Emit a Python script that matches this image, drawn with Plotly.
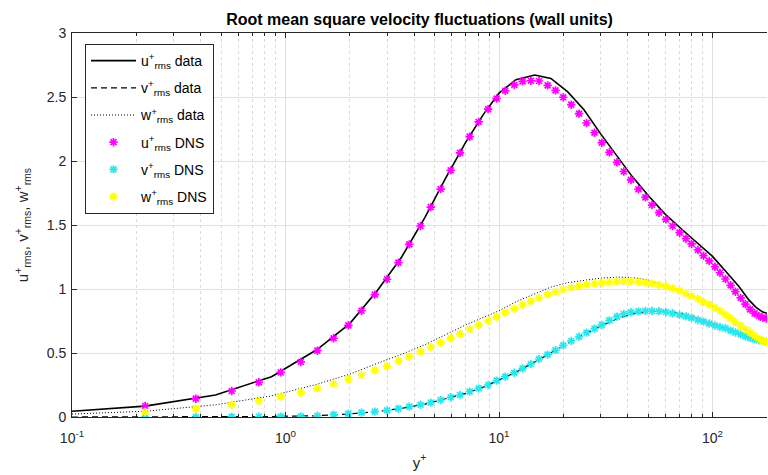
import plotly.graph_objects as go
import numpy as np

# ---------------- data ----------------
# DNS reference points (y+ positions)
yp_dns = [0.22, 0.38, 0.56, 0.75, 0.95, 1.18, 1.41, 1.68, 1.97, 2.27, 2.62, 2.99, 3.38, 3.80,
          4.29, 4.79, 5.33, 5.94, 6.57, 7.29, 8.03, 8.89, 9.75, 10.7, 11.8, 12.9, 14.1, 15.4,
          16.9, 18.4, 20.0, 21.8, 23.7, 25.7, 28.0, 30.3, 32.9, 35.7, 38.4, 41.5, 45.0, 48.5,
          52.1, 56.2, 60.5, 65.0, 70.1, 75.1, 79.8, 85.5, 90.8, 96.5, 102.7, 108.4, 115.0,
          121.6, 128.0, 135.5, 142.6, 150.0, 157.5, 165.0, 172.0, 179.0]

u_dns = [0.086, 0.143, 0.203, 0.271, 0.349, 0.43, 0.518, 0.615, 0.716, 0.83, 0.956, 1.076,
         1.206, 1.349, 1.492, 1.64, 1.781, 1.927, 2.063, 2.19, 2.305, 2.405, 2.488, 2.549,
         2.594, 2.622, 2.627, 2.625, 2.591, 2.552, 2.498, 2.44, 2.37, 2.297, 2.221, 2.143,
         2.068, 1.99, 1.918, 1.852, 1.779, 1.716, 1.656, 1.596, 1.544, 1.492, 1.44, 1.393,
         1.352, 1.305, 1.26, 1.219, 1.174, 1.127, 1.078, 1.029, 0.979, 0.93, 0.882, 0.841,
         0.81, 0.789, 0.776, 0.77]

v_dns = [0.0, 0.0, 0.001, 0.002, 0.003, 0.005, 0.01, 0.018, 0.026, 0.034, 0.042, 0.052,
         0.065, 0.081, 0.096, 0.112, 0.133, 0.154, 0.172, 0.198, 0.224, 0.25, 0.284, 0.315,
         0.346, 0.38, 0.414, 0.453, 0.487, 0.523, 0.56, 0.594, 0.627, 0.659, 0.69, 0.72,
         0.755, 0.784, 0.805, 0.818, 0.825, 0.828, 0.828, 0.826, 0.82, 0.81, 0.797, 0.786,
         0.775, 0.758, 0.745, 0.73, 0.715, 0.703, 0.693, 0.675, 0.66, 0.645, 0.63, 0.618,
         0.607, 0.6, 0.593, 0.588]

w_dns = [0.039, 0.065, 0.096, 0.125, 0.159, 0.19, 0.224, 0.258, 0.294, 0.326, 0.365, 0.398,
         0.4375, 0.471, 0.51, 0.545, 0.58, 0.615, 0.648, 0.685, 0.719, 0.75, 0.781, 0.815,
         0.846, 0.875, 0.904, 0.93, 0.956, 0.977, 0.995, 1.01, 1.023, 1.034, 1.041, 1.049,
         1.053, 1.058, 1.06, 1.06, 1.055, 1.049, 1.042, 1.031, 1.021, 1.005, 0.987, 0.963,
         0.945, 0.922, 0.898, 0.878, 0.854, 0.828, 0.799, 0.771, 0.742, 0.713, 0.685, 0.659,
         0.633, 0.612, 0.594, 0.586]

# computed ("data") profiles
yp_data = [0.1, 0.22, 0.47, 0.86, 1.4, 2.0, 2.7, 3.5, 4.5, 5.6, 7.0, 8.5, 10.0, 12.0, 14.7,
           17.5, 21.0, 25.0, 30.0, 36.0, 42.0, 50.0, 60.0, 72.0, 86.0, 100.0, 115.0, 133.0,
           148.0, 160.0, 172.0, 180.0]

u_data = [0.045, 0.085, 0.172, 0.315, 0.525, 0.73, 0.99, 1.25, 1.56, 1.86, 2.15, 2.37, 2.53,
          2.635, 2.672, 2.645, 2.54, 2.40, 2.21, 2.03, 1.88, 1.73, 1.585, 1.465, 1.35, 1.255,
          1.14, 1.02, 0.915, 0.857, 0.82, 0.81]

v_data = [0.0, 0.0, 0.001, 0.004, 0.01, 0.024, 0.043, 0.068, 0.10, 0.14, 0.185, 0.235, 0.29,
          0.35, 0.43, 0.50, 0.575, 0.645, 0.71, 0.77, 0.805, 0.825, 0.825, 0.805, 0.77, 0.73,
          0.69, 0.65, 0.625, 0.61, 0.6, 0.6]

w_data = [0.023, 0.045, 0.095, 0.165, 0.255, 0.335, 0.42, 0.49, 0.565, 0.64, 0.72, 0.78, 0.83,
          0.9, 0.96, 1.015, 1.05, 1.07, 1.085, 1.093, 1.09, 1.07, 1.03, 0.985, 0.925, 0.865,
          0.8, 0.72, 0.665, 0.625, 0.6, 0.595]

x_tickvals = [0.1, 1, 10, 100]
x_ticktext = ["10<sup>-1</sup>", "10<sup>0</sup>", "10<sup>1</sup>", "10<sup>2</sup>"]
x_minor = [m * d for d in (0.1, 1, 10) for m in range(2, 10)]
y_tickvals = [0, 0.5, 1, 1.5, 2, 2.5, 3]
y_ticktext = ["0", "0.5", "1", "1.5", "2", "2.5", "3"]

FONT = "Liberation Sans, Arial, Helvetica, sans-serif"
TXT = "#262626"

fig = go.Figure()

def lab(c, kind):
    return f"{c}<sup>+</sup><sub>rms</sub> {kind}"

fig.add_trace(go.Scatter(x=yp_data, y=u_data, mode="lines", name=lab("u", "data"),
                         legendgroup="g1",
                         line=dict(color="black", width=1.6, dash="solid")))
fig.add_trace(go.Scatter(x=yp_data, y=v_data, mode="lines", name=lab("v", "data"),
                         legendgroup="g2",
                         line=dict(color="black", width=1.2, dash="6px,4px")))
fig.add_trace(go.Scatter(x=yp_data, y=w_data, mode="lines", name=lab("w", "data"),
                         legendgroup="g3",
                         line=dict(color="black", width=1.0, dash="1px,2px")))

for i, (vals, col, c) in enumerate(((u_dns, "#FF00FF", "u"), (v_dns, "#2CE6EE", "v"),
                                    (w_dns, "#FFFF00", "w"))):
    fig.add_trace(go.Scatter(x=yp_dns, y=vals, mode="markers", name=lab(c, "DNS"),
                             legendgroup=f"g{4 + i}",
                             marker=dict(symbol="asterisk", size=7, color=col,
                                         line=dict(color=col, width=1.7))))

fig.update_layout(
    width=768, height=475,
    margin=dict(l=72, r=1, t=33, b=58),
    paper_bgcolor="white", plot_bgcolor="white",
    font=dict(family=FONT, size=14, color=TXT),
    title=dict(text="<b>Root mean square velocity fluctuations (wall units)</b>",
               x=0.5, xanchor="center", xref="paper", y=1 - 19.5 / 475, yanchor="middle",
               font=dict(size=16, color="black")),
    showlegend=True,
    legend=dict(x=(85 - 72) / 695, y=(417 - 44) / 384, xanchor="left", yanchor="top",
                bgcolor="white", bordercolor=TXT, borderwidth=1,
                font=dict(size=14, color="black"), tracegroupgap=6, itemwidth=45),
)

fig.update_xaxes(type="log", range=[-1, np.log10(180)],
                 tickmode="array", tickvals=x_tickvals, ticktext=x_ticktext,
                 ticks="inside", ticklen=5, tickcolor=TXT,
                 showline=True, linecolor=TXT, linewidth=1, mirror="ticks",
                 showgrid=True, gridcolor="#E0E0E0", gridwidth=1,
                 minor=dict(tickmode="array", tickvals=x_minor, ticks="inside", ticklen=3,
                            tickcolor=TXT, showgrid=True, gridcolor="#DADADA",
                            griddash="dot", gridwidth=1),
                 tickfont=dict(size=14, color=TXT), ticklabelstandoff=8,
                 title=dict(text="y<sup>+</sup>", font=dict(size=15, color=TXT), standoff=12),
                 zeroline=False)
fig.update_yaxes(range=[0, 3], tickmode="array", tickvals=y_tickvals, ticktext=y_ticktext,
                 ticks="inside", ticklen=5, tickcolor=TXT,
                 showline=True, linecolor=TXT, linewidth=1, mirror=False,
                 showgrid=True, gridcolor="#E0E0E0", gridwidth=1,
                 tickfont=dict(size=14, color=TXT), ticklabelstandoff=2,
                 title=dict(text="u<sup>+</sup><sub>rms</sub>, v<sup>+</sup><sub>rms</sub>, w<sup>+</sup><sub>rms</sub>",
                            font=dict(size=15, color=TXT), standoff=14),
                 zeroline=False)

fig.write_html("out.html")
